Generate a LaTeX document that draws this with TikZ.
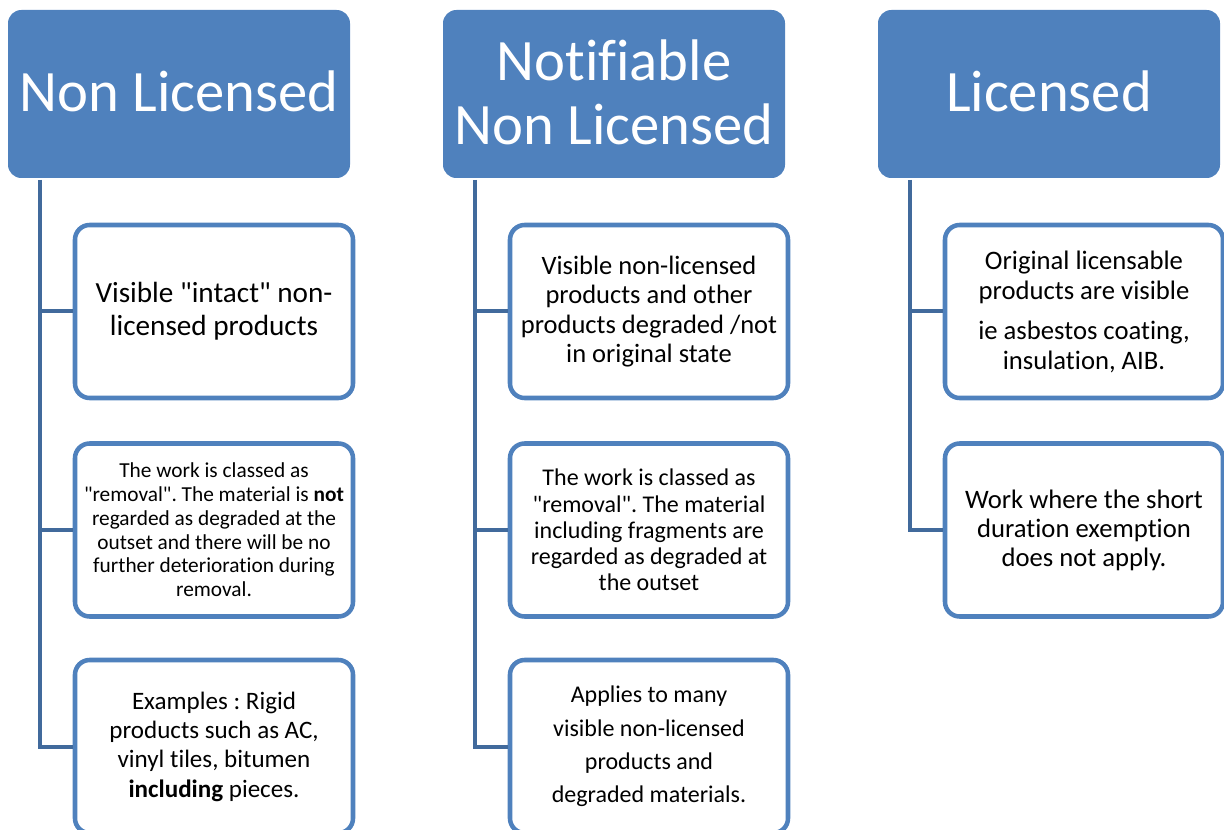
\documentclass[tikz,border=0pt]{standalone}
\usepackage{fontspec}
\setmainfont{Carlito}[Ligatures={TeXOff,NoCommon}]
\frenchspacing
\definecolor{hdr}{RGB}{79,129,189}
\definecolor{bord}{RGB}{79,129,189}
\definecolor{conncol}{RGB}{65,106,156}
\tikzset{
  hdrbox/.style={rectangle, rounded corners=10pt, fill=hdr, draw=none,
    minimum width=256.5pt, minimum height=126pt, inner sep=0pt},
  hdrtext/.style={text=white, align=center, inner sep=0pt, font=\fontsize{44}{48}\selectfont},
  childbox/.style={rectangle, rounded corners=11pt, draw=bord, line width=3.4pt, fill=white,
    minimum width=208.5pt, minimum height=129.75pt, align=center, inner sep=0pt, text=black},
  conn/.style={draw=conncol, line width=3pt}
}
\begin{document}
\begin{tikzpicture}[x=0.75pt,y=-0.75pt]
\useasboundingbox (0,0) rectangle (1224,830);
\clip (0,0) rectangle (1224,830);

% headers
\node[hdrbox] (h1) at (179,94) {};
\node[hdrbox] (h2) at (614,94) {};
\node[hdrbox] (h3) at (1049,94) {};
\node[hdrtext] (h1t) at ([yshift=2.2pt]h1.center) {Non Licensed};
\node[hdrtext] (h2t) at ([yshift=1.5pt]h2.center) {Notifiable\\Non Licensed};
\node[hdrtext] (h3t) at ([yshift=2.2pt]h3.center) {Licensed};

% column 1
\node[childbox, font=\fontsize{21.9}{24.75}\selectfont] (c11) at (214,311.5)
  {Visible "intact" non-\\licensed products};
\node[childbox, font=\fontsize{16}{17.8}\selectfont] (c12) at (214,530)
  {The work is classed as\\"removal". The material is \textbf{not}\\regarded as degraded at the\\outset and there will be no\\further deterioration during\\removal.};
\node[childbox, font=\fontsize{18.8}{22}\selectfont] (c13) at (214,746.5)
  {Examples : Rigid\\products such as AC,\\vinyl tiles, bitumen\\\textbf{including} pieces.};

% column 2
\node[childbox, font=\fontsize{19.9}{22}\selectfont] (c21) at (649,311.5)
  {Visible non-licensed\\products and other\\products degraded /not\\in original state};
\node[childbox, font=\fontsize{18}{19.65}\selectfont] (c22) at (649,530)
  {The work is classed as\\"removal". The material\\including fragments are\\regarded as degraded at\\the outset};
\node[childbox, font=\fontsize{18}{25}\selectfont] (c23) at (649,746.5)
  {Applies to many\\visible non-licensed\\products and\\degraded materials.};

% column 3
\node[childbox, font=\fontsize{20}{22.5}\selectfont] (c31) at (1084,311.5)
  {Original licensable\\products are visible\\[7.5pt]ie asbestos coating,\\insulation, AIB.};
\node[childbox, font=\fontsize{20}{21.75}\selectfont] (c32) at (1084,530)
  {Work where the short\\duration exemption\\does not apply.};

% connectors
\coordinate (t1) at (40,180);
\coordinate (t2) at (475,180);
\coordinate (t3) at (910,180);

\draw[conn] (t1) |- (c13.west);
\draw[conn] (t1 |- c11.west) -- (c11.west);
\draw[conn] (t1 |- c12.west) -- (c12.west);

\draw[conn] (t2) |- (c23.west);
\draw[conn] (t2 |- c21.west) -- (c21.west);
\draw[conn] (t2 |- c22.west) -- (c22.west);

\draw[conn] (t3) |- (c32.west);
\draw[conn] (t3 |- c31.west) -- (c31.west);
\end{tikzpicture}
\end{document}
